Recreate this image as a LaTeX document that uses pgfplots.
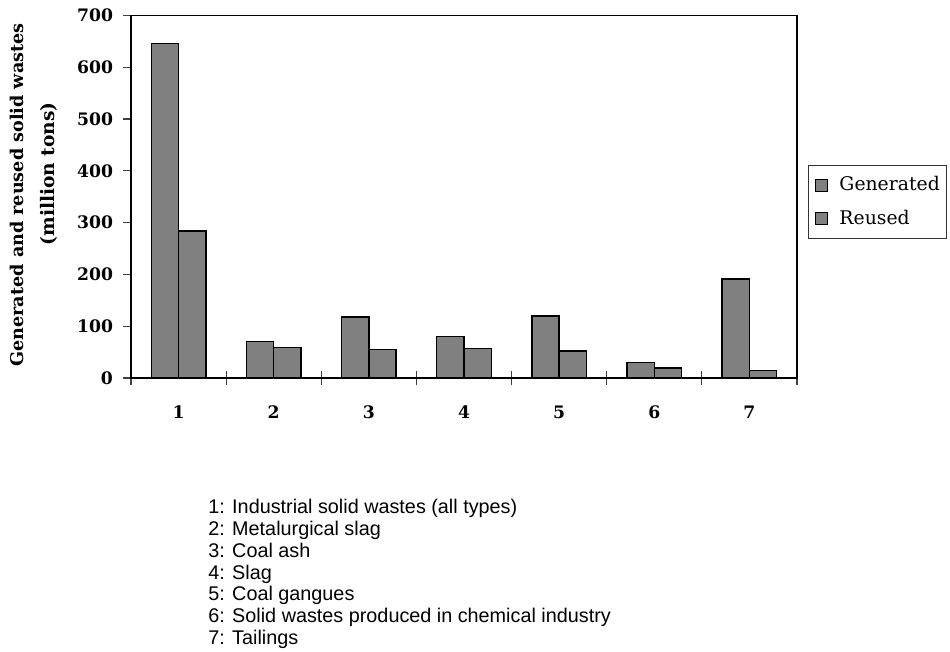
\documentclass[border=0pt]{standalone}
\usepackage{pgfplots}
\pgfplotsset{compat=1.18}
\usepackage{fontspec}
\setmainfont{DejaVu Serif}
\newfontfamily\notefont{Liberation Sans}
\begin{document}
\begin{tikzpicture}
\useasboundingbox (0,0) rectangle (475bp,326bp);
\begin{axis}[
  at={(65.5bp,137bp)}, anchor=south west,
  scale only axis, width=333bp, height=181.35bp,
  xmin=0.5, xmax=7.5, ymin=0, ymax=700,
  ybar=0pt, bar width=13.65bp,
  xtick={1,...,7},
  minor xtick={0.5,1.5,...,7.5},
  ytick={0,100,...,700},
  xtick pos=left, ytick pos=left,
  tick align=outside,
  major tick length=4bp, minor tick length=7bp,
  major x tick style={draw=none},
  minor x tick style={black!75, line width=0.6pt, yshift=3.5bp},
  major y tick style={black!75, line width=0.6pt},
  axis line style={line width=0.7pt},
  /pgf/number format/assume math mode=true,
  tick label style={font=\bfseries\fontsize{8.6bp}{10bp}\selectfont},
  xticklabel style={yshift=-6.5bp},
  yticklabel style={xshift=-1.5bp},
  legend style={at={(1.0165,0.5868)}, anchor=north west,
    draw=black!80, line width=0.5pt,
    font=\fontsize{9.4bp}{11bp}\selectfont,
    nodes={inner sep=0pt},
    inner xsep=3.5bp, inner ysep=5.5bp, row sep=8bp,
    column sep=5.5bp},
  legend cell align=left,
  mylegend/.style={legend image code/.code={\draw[fill=black!50, draw=black, line width=0.5pt] (0bp,-3bp) rectangle (6bp,3bp);}},
]
\addplot[fill=black!50, draw=black, line width=0.7pt, mylegend] coordinates {(1,645) (2,71) (3,118) (4,80) (5,120) (6,30) (7,191)};
\addplot[fill=black!50, draw=black, line width=0.7pt, mylegend] coordinates {(1,284) (2,59) (3,55) (4,57) (5,52) (6,19) (7,15)};
\legend{Generated, Reused}
\end{axis}
\node[rotate=90, anchor=base west, inner sep=0pt, font=\bfseries\fontsize{8.8bp}{11bp}\selectfont] at (11.5bp,142.5bp) {Generated and reused solid wastes};
\node[rotate=90, anchor=base, inner sep=0pt, font=\bfseries\fontsize{9.3bp}{11bp}\selectfont] at (27bp,239bp) {(million tons)};
\begin{scope}[every node/.style={anchor=base west, inner sep=0pt, font=\notefont\fontsize{9.9bp}{11bp}\selectfont}]
\node at (104bp,69bp) {1: Industrial solid wastes (all types)};
\node at (104bp,58.15bp) {2: Metalurgical slag};
\node at (104bp,47.3bp) {3: Coal ash};
\node at (104bp,36.45bp) {4: Slag};
\node at (104bp,25.6bp) {5: Coal gangues};
\node at (104bp,14.75bp) {6: Solid wastes produced in chemical industry};
\node at (104bp,3.9bp) {7: Tailings};
\end{scope}
\end{tikzpicture}
\end{document}
